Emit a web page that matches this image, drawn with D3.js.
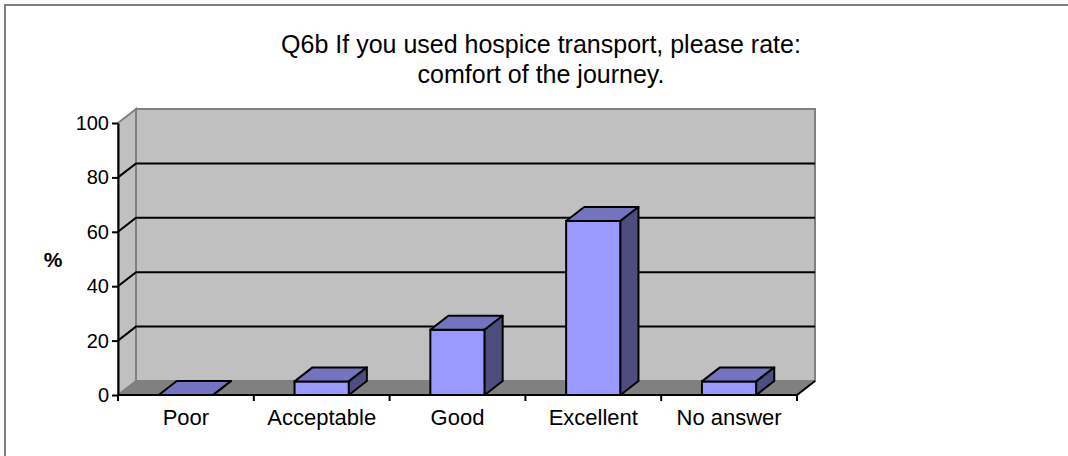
<!DOCTYPE html>
<html lang="en">
<head>
<meta charset="utf-8">
<script src="https://d3js.org/d3.v7.min.js"></script>
<style>
  body { margin: 0; background: #fff; }
  text { font-family: "Liberation Sans", Arial, sans-serif; fill: #000; }
</style>
</head>
<body>
<script>
// chart data
var categories = ["Poor", "Acceptable", "Good", "Excellent", "No answer"];
var percents = [0, 5, 24, 64, 5];
var yTicks = [0, 20, 40, 60, 80, 100];
var titleLines = ["Q6b If you used hospice transport, please rate:", "comfort of the journey."];

var width = 1068, height = 456;
var plotLeft = 118, plotRight = 797, plotBottom = 395, plotTop = 123;
var dx = 18, dy = -14; // depth offset of the 3d box

var svg = d3.select("body").append("svg")
    .attr("width", width)
    .attr("height", height);

// outer frame (right and bottom edges fall outside the picture)
svg.append("rect")
    .attr("x", 5).attr("y", 5)
    .attr("width", 1200).attr("height", 600)
    .attr("fill", "#fff")
    .attr("stroke", "#808080")
    .attr("stroke-width", 2);

var x = d3.scaleBand().domain(categories).range([plotLeft, plotRight]);
var y = d3.scaleLinear().domain([0, 100]).range([plotBottom, plotTop]);

// back wall
svg.append("rect")
    .attr("x", plotLeft + dx).attr("y", y(100) + dy)
    .attr("width", plotRight - plotLeft).attr("height", y(0) - y(100))
    .attr("fill", "#c0c0c0")
    .attr("stroke", "#808080")
    .attr("stroke-width", 2);

// left side wall
svg.append("polygon")
    .attr("points", [[plotLeft, y(100)], [plotLeft + dx, y(100) + dy], [plotLeft + dx, y(0) + dy], [plotLeft, y(0)]].join(" "))
    .attr("fill", "#c0c0c0")
    .attr("stroke", "#808080")
    .attr("stroke-width", 2);

// floor
svg.append("polygon")
    .attr("points", [[plotLeft, y(0)], [plotRight, y(0)], [plotRight + dx, y(0) + dy], [plotLeft + dx, y(0) + dy]].join(" "))
    .attr("fill", "#808080")
    .attr("stroke", "#808080")
    .attr("stroke-width", 1);

// gridlines on back and side walls
var grid = yTicks.filter(function (d) { return d > 0 && d < 100; });
svg.append("g").selectAll("path")
    .data(grid)
    .enter()
    .append("path")
    .attr("d", function (d) {
        return "M" + plotLeft + "," + y(d) + "L" + (plotLeft + dx) + "," + (y(d) + dy) + "L" + (plotRight + dx) + "," + (y(d) + dy);
    })
    .attr("fill", "none")
    .attr("stroke", "#000")
    .attr("stroke-width", 2);

// bars
var bw = x.bandwidth() * 0.4;
var bars = svg.append("g").selectAll("g")
    .data(categories)
    .enter()
    .append("g");

bars.append("rect")
    .attr("x", function (d) { return x(d) + x.bandwidth() / 2 - bw / 2; })
    .attr("y", function (d, i) { return y(percents[i]); })
    .attr("width", bw)
    .attr("height", function (d, i) { return y(0) - y(percents[i]); })
    .attr("fill", "#9999ff")
    .attr("stroke", "#000")
    .attr("stroke-width", 2);

bars.append("polygon")
    .attr("points", function (d, i) {
        var xl = x(d) + x.bandwidth() / 2 - bw / 2, xr = xl + bw, yt = y(percents[i]);
        return [[xl, yt], [xl + dx, yt + dy], [xr + dx, yt + dy], [xr, yt]].join(" ");
    })
    .attr("fill", "#7373bf")
    .attr("stroke", "#000")
    .attr("stroke-width", 2)
    .attr("stroke-linejoin", "round");

bars.append("polygon")
    .attr("points", function (d, i) {
        var xr = x(d) + x.bandwidth() / 2 + bw / 2, yt = y(percents[i]);
        return [[xr, yt], [xr + dx, yt + dy], [xr + dx, y(0) + dy], [xr, y(0)]].join(" ");
    })
    .attr("fill", "#4d4d80")
    .attr("stroke", "#000")
    .attr("stroke-width", 2)
    .attr("stroke-linejoin", "round");

// y axis
var yAxis = svg.append("g")
    .attr("transform", "translate(" + plotLeft + ",0)")
    .call(d3.axisLeft(y).tickValues(yTicks).tickSize(6).tickSizeOuter(0).tickPadding(3));
yAxis.select(".domain").attr("stroke", "#000").attr("stroke-width", 2);
yAxis.selectAll(".tick line").attr("stroke", "#000").attr("stroke-width", 2);
yAxis.selectAll(".tick text")
    .style("font-family", "'Liberation Sans', Arial, sans-serif")
    .style("font-size", "20px")
    .attr("fill", "#000");

// x axis: front edge, right floor edge, ticks at band edges
svg.append("path")
    .attr("d", "M" + plotLeft + "," + y(0) + "L" + plotRight + "," + y(0) + "L" + (plotRight + dx) + "," + (y(0) + dy))
    .attr("fill", "none")
    .attr("stroke", "#000")
    .attr("stroke-width", 2);

var edges = categories.map(function (d) { return x(d); }).concat([plotRight]);
svg.append("g").selectAll("line")
    .data(edges)
    .enter()
    .append("line")
    .attr("x1", function (d) { return d; })
    .attr("x2", function (d) { return d; })
    .attr("y1", y(0))
    .attr("y2", y(0) + 6)
    .attr("stroke", "#000")
    .attr("stroke-width", 2);

svg.append("g").selectAll("text")
    .data(categories)
    .enter()
    .append("text")
    .attr("x", function (d) { return x(d) + x.bandwidth() / 2; })
    .attr("y", 425)
    .attr("text-anchor", "middle")
    .style("font-size", "22px")
    .text(function (d) { return d; });

// y axis title
svg.append("text")
    .attr("x", 53)
    .attr("y", 267)
    .attr("text-anchor", "middle")
    .style("font-size", "21px")
    .style("font-weight", "bold")
    .text("%");

// chart title
svg.append("g").selectAll("text")
    .data(titleLines)
    .enter()
    .append("text")
    .attr("x", 541)
    .attr("y", function (d, i) { return 53 + i * 30; })
    .attr("text-anchor", "middle")
    .style("font-size", "25px")
    .text(function (d) { return d; });
</script>
</body>
</html>
